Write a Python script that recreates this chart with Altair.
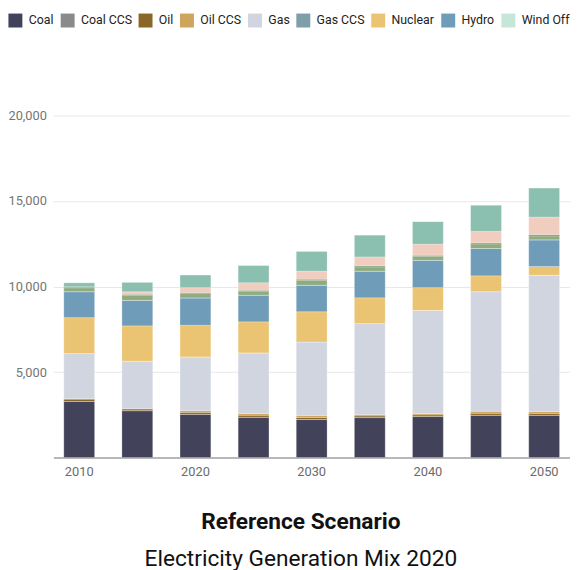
import altair as alt
import pandas as pd

years = [2010, 2015, 2020, 2025, 2030, 2035, 2040, 2045, 2050]

series = ["Coal", "Coal CCS", "Oil", "Oil CCS", "Gas", "Gas CCS", "Nuclear",
          "Hydro", "Wind Offshore", "Biomass", "Geothermal", "Solar", "Wind Onshore"]
colors = ["#42435a", "#8a8a8a", "#8a6628", "#cfa45c", "#d0d5e0", "#7f9fa8",
          "#ebc473", "#6f9cb8", "#c6e6da", "#8fab7f", "#5e8a5c", "#f1cdc0", "#8bbfb0"]

coal = [3280, 2745, 2530, 2360, 2225, 2340, 2400, 2475, 2475]
coal_ccs = [0, 0, 0, 0, 0, 0, 0, 0, 0]
oil = [140, 100, 115, 115, 120, 95, 95, 115, 110]
oil_ccs = [15, 15, 100, 100, 110, 80, 80, 115, 105]
gas = [2645, 2775, 3140, 3545, 4305, 5320, 6030, 6995, 7975]
gas_ccs = [0, 0, 0, 0, 0, 0, 0, 0, 0]
nuclear = [2100, 2065, 1850, 1815, 1765, 1505, 1330, 925, 505]
hydro = [1520, 1490, 1600, 1560, 1550, 1560, 1600, 1600, 1560]
wind_offshore = [0, 0, 0, 0, 0, 0, 0, 0, 0]
biomass = [230, 300, 250, 235, 290, 250, 230, 270, 230]
geothermal = [55, 55, 60, 50, 60, 60, 60, 60, 75]
solar = [0, 150, 290, 440, 480, 520, 655, 670, 1025]
wind_onshore = [230, 545, 735, 1005, 1140, 1270, 1310, 1525, 1695]

x_label_years = [2010, 2020, 2030, 2040, 2050]
y_ticks = [5000, 10000, 15000, 20000]

values = [coal, coal_ccs, oil, oil_ccs, gas, gas_ccs, nuclear, hydro,
          wind_offshore, biomass, geothermal, solar, wind_onshore]

rows = []
for i, (name, vals) in enumerate(zip(series, values)):
    for y, v in zip(years, vals):
        rows.append({"year": y, "source": name, "value": v, "idx": i})
df = pd.DataFrame(rows)

chart = alt.Chart(df).mark_bar(stroke="#ffffff", strokeWidth=0.4, strokeOpacity=0.6).encode(
    x=alt.X("year:O",
            scale=alt.Scale(paddingInner=0.47, paddingOuter=0.18),
            axis=alt.Axis(title=None, values=x_label_years, labelAngle=0, ticks=False,
                          domainColor="#a0a0a0", domainWidth=1.5, labelColor="#6b6b6b",
                          labelFontSize=13, labelPadding=8)),
    y=alt.Y("value:Q", stack="zero",
            scale=alt.Scale(domain=[0, 20000], nice=False),
            axis=alt.Axis(title=None, values=y_ticks, format=",d", domain=False, ticks=False,
                          gridColor="#e8e8e8", labelColor="#757575", labelFontSize=13,
                          labelPadding=7)),
    color=alt.Color("source:N", sort=series, title=None,
                    scale=alt.Scale(domain=series, range=colors),
                    legend=alt.Legend(orient="none", legendX=-46, legendY=-104,
                                      direction="horizontal", columns=len(series),
                                      symbolType="square", symbolSize=200,
                                      symbolStrokeWidth=0, labelFontSize=12.5,
                                      labelColor="#222222", labelOffset=6,
                                      columnPadding=6, padding=0)),
    order=alt.Order("idx:Q", sort="ascending"),
).properties(
    width=524,
    height=347,
    autosize=alt.AutoSizeParams(type="none"),
    padding={"left": 46, "top": 105, "right": 0, "bottom": 110},
    title=alt.TitleParams(text="Reference Scenario", subtitle="Electricity Generation Mix 2020",
                          orient="bottom", anchor="middle", dx=-11, offset=33,
                          fontSize=23, fontWeight="bold", color="#111111",
                          subtitleFontSize=23, subtitleColor="#111111",
                          subtitlePadding=15),
).configure(font="Roboto").configure_view(stroke=None)

chart.save("out.html", embed_options={"renderer": "svg", "actions": False})
